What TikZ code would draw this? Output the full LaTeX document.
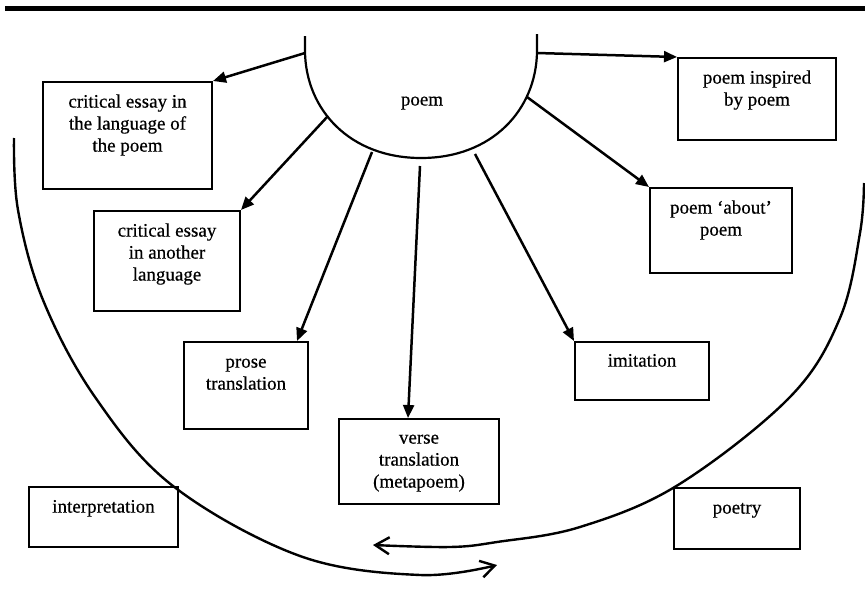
\documentclass[tikz,border=0pt]{standalone}
\usepackage{fontspec}
\setmainfont{Liberation Serif}
\newfontfamily\lblfont[FakeBold=0.5,Ligatures=TeX]{Liberation Serif}
\usetikzlibrary{arrows.meta}
\begin{document}
\begin{tikzpicture}[x=1pt,y=-1pt,
  box/.style={draw, line width=2pt, inner sep=0pt, anchor=north west},
  lbl/.style={anchor=north, align=center, inner sep=0pt, font=\lblfont\fontsize{19}{22}\selectfont},
  conn/.style={line width=2.5pt, -{Triangle[length=13pt,width=11pt]}},
  bigarc/.style={line width=2.4pt, -{Straight Barb[length=14pt,width=17pt]}},
]
\useasboundingbox (0,0) rectangle (865,608);

% top rule
\draw[line width=5pt] (5,8) -- (865,8);

% poem shape
\coordinate (pl) at (305,36);
\coordinate (pb) at (421,158);
\coordinate (pr) at (537,34);
\draw[line width=2.2pt] (pl) -- (305,52) .. controls (306,110) and (350,158) .. (pb)
  .. controls (492,158) and (536,110) .. (537,52) -- (pr);
\node[lbl, anchor=base] (poem) at (422,105.5) {poem};

% boxes
\node[box, minimum width=169pt, minimum height=107pt] (b1) at (42,81) {};
\node[lbl] (t1) at ([yshift=-11pt]b1.north) {\strut critical essay in\\the language of\\the poem};
\node[box, minimum width=146pt, minimum height=100pt] (b2) at (93,210) {};
\node[lbl] (t2) at ([yshift=-11pt]b2.north) {\strut critical essay\\in another\\language};
\node[box, minimum width=124pt, minimum height=87pt] (prose) at (183,341) {};
\node[lbl] (t3) at ([yshift=-11pt]prose.north) {\strut prose\\translation};
\node[box, minimum width=160pt, minimum height=85pt] (verse) at (338,418) {};
\node[lbl] (t4) at ([yshift=-10pt]verse.north) {\strut verse\\translation\\(metapoem)};
\node[box, minimum width=149pt, minimum height=60pt] (interp) at (28,486) {};
\node[lbl] (t5) at ([yshift=-11pt]interp.north) {\strut interpretation};
\node[box, minimum width=134pt, minimum height=58pt] (imit) at (574,341) {};
\node[lbl] (t6) at ([yshift=-10pt]imit.north) {\strut imitation};
\node[box, minimum width=126pt, minimum height=61pt] (poetry) at (673,487) {};
\node[lbl] (t7) at ([yshift=-11pt]poetry.north) {\strut poetry};
\node[box, minimum width=158pt, minimum height=82pt] (insp) at (677,57) {};
\node[lbl] (t8) at ([yshift=-11pt]insp.north) {\strut poem inspired\\by poem};
\node[box, minimum width=142pt, minimum height=85pt] (about) at (649,187) {};
\node[lbl] (t9) at ([yshift=-11pt]about.north) {\strut poem ‘about’\\poem};

% connector starts on the poem shape
\coordinate (s1) at (305,53);
\coordinate (s2) at (328,116);
\coordinate (s3) at (372,152);
\coordinate (s4) at (420,166);
\coordinate (s5) at (475,154);
\coordinate (s6) at (527,97);
\coordinate (s7) at (537,53);

\draw[conn] (s1) -- (b1.north east);
\draw[conn] (s2) -- (b2.north east);
\draw[conn] (s3) -- ([xshift=-12pt]prose.north east);
\draw[conn] (s4) -- ([xshift=-11pt]verse.north);
\draw[conn] (s5) -- (imit.north west);
\draw[conn] (s6) -- (about.north west);
\draw[conn] (s7) -- (insp.north west);

% big arcs
\draw[bigarc] plot[smooth, tension=0.6] coordinates {(14,138) (18,210) (43,300) (95,397) (173,486) (300,556) (420,575) (497,565)};
\draw[bigarc] plot[smooth, tension=0.6] coordinates {(864,183) (860,233) (840,318) (790,397) (678,485) (580,527) (497,542) (450,547) (373,545)};
\end{tikzpicture}
\end{document}
